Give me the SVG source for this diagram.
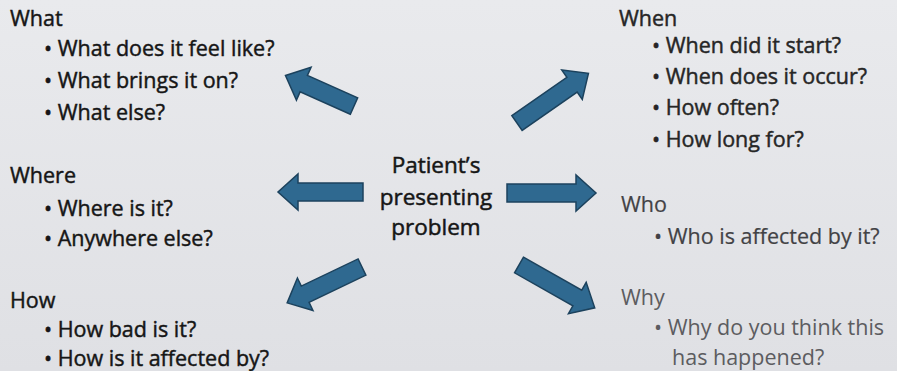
<svg xmlns="http://www.w3.org/2000/svg" width="897" height="371" viewBox="0 0 897 371">
  <defs>
    <linearGradient id="bg" x1="0" y1="0" x2="0" y2="1">
      <stop offset="0" stop-color="#e9eaed"/>
      <stop offset="1" stop-color="#dfe0e4"/>
    </linearGradient>
  </defs>
  <style>
    .t { font-family: "Open Sans", "Noto Sans", "Liberation Sans", sans-serif; font-size: 21.5px; fill: #161616; stroke: #161616; stroke-width: 0.45; }
    .c { font-family: "Open Sans", "Noto Sans", "Liberation Sans", sans-serif; font-size: 22.5px; fill: #161616; stroke: #161616; stroke-width: 0.5; text-anchor: middle; }
    .g1 { fill: #262626; stroke: #262626; }
    .g2 { fill: #424245; stroke: #424245; stroke-width: 0.2; }
    .g3 { fill: #5c5c60; stroke: none; }
    .arrow { fill: #2f6990; stroke: #1c425d; stroke-width: 1.5; stroke-linejoin: miter; }
  </style>
  <rect x="0" y="0" width="897" height="371" fill="url(#bg)"/>

  <g id="center">
    <text class="c" x="436" y="173">Patient’s</text>
    <text class="c" x="436" y="205">presenting</text>
    <text class="c" x="436" y="235">problem</text>
  </g>

  <g id="what">
    <text class="t" x="10" y="26">What</text>
    <text class="t" x="44" y="56">• What does it feel like?</text>
    <text class="t" x="44" y="88">• What brings it on?</text>
    <text class="t" x="44" y="120">• What else?</text>
  </g>

  <g id="when">
    <text class="t g1" x="619" y="26">When</text>
    <text class="t g1" x="652" y="53">• When did it start?</text>
    <text class="t g1" x="652" y="84">• When does it occur?</text>
    <text class="t g1" x="652" y="115">• How often?</text>
    <text class="t g1" x="652" y="147">• How long for?</text>
  </g>

  <g id="where">
    <text class="t" x="10" y="183">Where</text>
    <text class="t" x="44" y="216">• Where is it?</text>
    <text class="t" x="44" y="246">• Anywhere else?</text>
  </g>

  <g id="who">
    <text class="t g2" x="621" y="212">Who</text>
    <text class="t g2" x="654" y="244">• Who is affected by it?</text>
  </g>

  <g id="how">
    <text class="t" x="10" y="308">How</text>
    <text class="t" x="44" y="337">• How bad is it?</text>
    <text class="t" x="44" y="366">• How is it affected by?</text>
  </g>

  <g id="why">
    <text class="t g3" x="621" y="305">Why</text>
    <text class="t g3" x="654" y="335">• Why do you think this</text>
    <text class="t g3" x="672" y="365">has happened?</text>
  </g>

  <g id="connectors">
    <path class="arrow" transform="translate(354,106) rotate(204)" d="M0,-9 H55 V-18 L75,0 L55,18 V9 H0 Z"/>
    <path class="arrow" transform="translate(517,123) rotate(-34.8)" d="M0,-9 H67 V-18 L87,0 L67,18 V9 H0 Z"/>
    <path class="arrow" transform="translate(363,192) rotate(180)" d="M0,-9 H65 V-18 L85,0 L65,18 V9 H0 Z"/>
    <path class="arrow" transform="translate(507,193)" d="M0,-9 H69 V-18 L89,0 L69,18 V9 H0 Z"/>
    <path class="arrow" transform="translate(362,267) rotate(154.4)" d="M0,-9 H63 V-18 L83,0 L63,18 V9 H0 Z"/>
    <path class="arrow" transform="translate(519,265) rotate(29.5)" d="M0,-9 H67 V-18 L87,0 L67,18 V9 H0 Z"/>
  </g>
</svg>
